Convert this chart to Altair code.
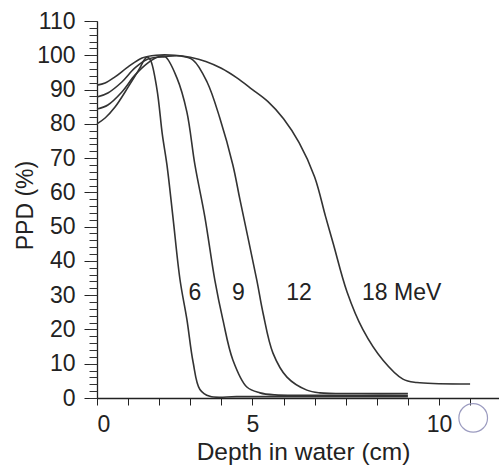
import altair as alt
import pandas as pd

# ---- data ----
depth_6 = [0, 0.26, 0.58, 1.0, 1.38, 1.5, 1.61, 1.72, 1.93, 2.1, 2.25, 2.44, 2.67, 2.89, 3.09, 3.31, 3.63, 4.5, 6.0, 8.0, 10.0]
ppd_6 = [80.0, 81.7, 84.9, 90.7, 96.3, 98.4, 99.5, 98.6, 90.0, 77.0, 68.0, 53.0, 34.5, 23.0, 10.5, 2.5, 0.5, 0.4, 0.4, 0.4, 0.4]

depth_9 = [0, 0.35, 0.8, 1.22, 1.64, 1.96, 2.19, 2.57, 2.89, 3.15, 3.47, 3.79, 4.05, 4.37, 4.82, 5.24, 5.72, 7.0, 8.5, 10.0]
ppd_9 = [84.3, 85.5, 89.3, 94.2, 97.8, 99.5, 99.6, 93.4, 83.5, 68.0, 52.8, 34.4, 22.8, 11.1, 3.2, 1.5, 0.9, 0.8, 0.8, 0.8]

depth_12 = [0, 0.35, 0.8, 1.22, 1.64, 2.19, 2.67, 3.09, 3.54, 3.95, 4.37, 4.6, 5.14, 5.34, 5.66, 6.11, 6.75, 7.17, 8.5, 10.0]
ppd_12 = [87.8, 89.0, 92.2, 96.3, 98.9, 99.6, 99.8, 98.6, 92.2, 81.7, 68.0, 57.8, 34.4, 24.8, 13.1, 6.1, 2.3, 1.5, 1.3, 1.3]

depth_18 = [0, 0.26, 0.58, 1.0, 1.45, 1.9, 2.5, 3.0, 3.5, 4.0, 4.5, 5.0, 5.5, 6.0, 6.5, 7.0, 7.35, 7.6, 8.04, 8.55, 9.2, 9.84, 10.29, 12.0]
ppd_18 = [91.3, 91.9, 93.7, 96.6, 99.2, 100, 100, 99.4, 98.2, 96.2, 93.4, 90.0, 86.5, 81.5, 74.5, 64.5, 53.0, 45.0, 31.0, 20.0, 11.0, 5.5, 4.5, 4.1]

energies = ["6", "9", "12", "18"]

label_text = ["6", "9", "12", "18 MeV"]
label_x = [3.15, 4.55, 6.5, 9.8]
label_y = [30.5, 30.5, 30.5, 30.5]

x_tick_values = list(range(0, 13))
y_major_values = list(range(0, 111, 10))
y_minor_values = list(range(0, 111, 2))

marker_x = [12.1]
marker_y = [-5.8]

# ---- tables ----
rows = []
for e, ds, ps in zip(energies, [depth_6, depth_9, depth_12, depth_18], [ppd_6, ppd_9, ppd_12, ppd_18]):
    for d, p in zip(ds, ps):
        rows.append({"energy": e, "depth": d, "ppd": p})
curves = pd.DataFrame(rows)
labels = pd.DataFrame({"text": label_text, "x": label_x, "y": label_y})
marker = pd.DataFrame({"x": marker_x, "y": marker_y})

FONT = "Liberation Sans"
xscale = alt.Scale(domain=[0, 12.93], nice=False, zero=False)
yscale = alt.Scale(domain=[0, 110], nice=False)

x_axis = alt.Axis(
    values=x_tick_values,
    labelExpr="datum.value == 0 ? '0' : datum.value == 5 ? '5' : datum.value == 11 ? '10' : ''",
    title="Depth in water (cm)",
    grid=False, tickSize=7, tickColor="#222", domainColor="#222", domainWidth=1.3,
    labelFont=FONT, labelFontSize=23, labelColor="#222", labelPadding=8,
    titleFont=FONT, titleFontSize=24.5, titleFontWeight="normal", titleColor="#222",
    titleX=206, titleY=61, titleBaseline="alphabetic", titleAlign="center",
)
y_axis_major = alt.Axis(
    orient="left", values=y_major_values, title="PPD (%)",
    grid=False, tickSize=13, tickColor="#222", domainColor="#222", domainWidth=1.3,
    labelFont=FONT, labelFontSize=23, labelColor="#222", labelPadding=9,
    titleFont=FONT, titleFontSize=23, titleFontWeight="normal", titleColor="#222",
    titleX=-65, titleY=184, titleAngle=270, titleBaseline="alphabetic", titleAlign="center",
)
y_axis_minor = alt.Axis(
    orient="left", values=y_minor_values, title=None, labels=False, domain=False,
    grid=False, tickSize=8, tickColor="#333", tickWidth=1,
)

lines = alt.Chart(curves).mark_line(color="#333", strokeWidth=1.6, interpolate="catmull-rom").encode(
    x=alt.X("depth:Q", scale=xscale, axis=x_axis),
    y=alt.Y("ppd:Q", scale=yscale, axis=y_axis_major),
    detail="energy:N",
)

texts = alt.Chart(labels).mark_text(font=FONT, fontSize=23, color="#222", align="center", baseline="middle").encode(
    x=alt.X("x:Q", scale=xscale, axis=x_axis),
    y=alt.Y("y:Q", scale=yscale, axis=y_axis_minor),
    text="text:N",
)

circle = alt.Chart(marker).mark_point(shape="circle", size=820, filled=False, color="#9c9cc0", strokeWidth=1.2, opacity=1).encode(
    x=alt.X("x:Q", scale=xscale, axis=x_axis),
    y=alt.Y("y:Q", scale=yscale, axis=None),
)

chart = alt.layer(lines, texts, circle).resolve_axis(y="independent").properties(
    width=402, height=377,
    autosize=alt.AutoSizeParams(type="none"),
    padding={"left": 97, "top": 21, "right": 0, "bottom": 74},
    background="white",
).configure_view(stroke=None)

chart.save("out.html", embed_options={"renderer": "svg", "actions": False})
